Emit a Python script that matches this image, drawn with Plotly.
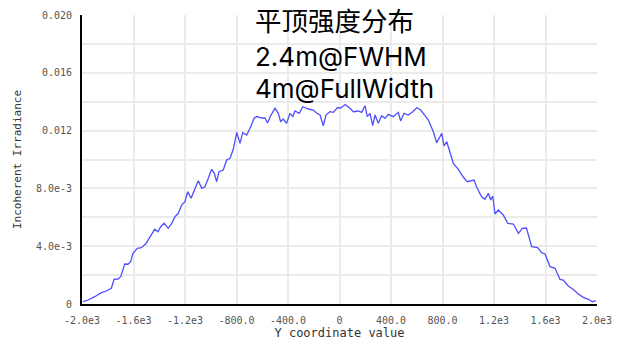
import plotly.graph_objects as go

# Line profile of incoherent irradiance across the Y coordinate
y_coord = [
    -1992, -1953, -1901, -1850, -1811, -1772, -1751, -1720, -1699, -1668,
    -1643, -1622, -1604, -1570, -1539, -1501, -1474, -1435, -1410, -1389,
    -1363, -1330, -1303, -1278, -1252, -1226, -1200, -1179, -1153, -1128,
    -1097, -1070, -1045, -1019, -993, -972, -954, -936, -903, -876,
    -850, -825, -798, -773, -752, -721, -695, -662, -643, -604,
    -579, -559, -536, -501, -475, -457, -437, -411, -384, -363,
    -346, -312, -286, -242, -203, -177, -151, -126, -105, -74,
    -48, -17, 9, 43, 82, 107, 146, 172, 198, 216,
    237, 258, 276, 301, 328, 353, 379, 418, 457, 475,
    501, 534, 569, 600, 631, 664, 690, 729, 755, 794,
    812, 833, 858, 884, 923, 962, 993, 1045, 1066, 1104,
    1130, 1156, 1174, 1190, 1208, 1233, 1272, 1307, 1350, 1390,
    1420, 1452, 1493, 1539, 1570, 1596, 1635, 1674, 1713, 1738,
    1777, 1816, 1855, 1894, 1932, 1964, 1990,
]
irradiance = [
    0.000159, 0.000277, 0.000505, 0.000782, 0.000900, 0.001086, 0.001709, 0.001730, 0.001889, 0.002768,
    0.002750, 0.002927, 0.003508, 0.003854, 0.003896, 0.004200, 0.004616, 0.005169, 0.005003, 0.005349,
    0.005584, 0.005238, 0.005584, 0.006041, 0.006276, 0.006851, 0.007079, 0.007771, 0.007314, 0.007889,
    0.008532, 0.008006, 0.008117, 0.008698, 0.009321, 0.009044, 0.008463, 0.009155, 0.009273, 0.009965,
    0.010082, 0.010705, 0.011882, 0.011120, 0.011854, 0.011695, 0.012158, 0.012871, 0.012975, 0.012871,
    0.012871, 0.012525, 0.013010, 0.013542, 0.013196, 0.012615, 0.012802, 0.012504, 0.013196, 0.012961,
    0.013356, 0.013196, 0.013653, 0.013494, 0.013425, 0.013196, 0.013079, 0.012338, 0.013079, 0.013307,
    0.013266, 0.013584, 0.013563, 0.013805, 0.013542, 0.013307, 0.013356, 0.013266, 0.013722, 0.012961,
    0.013196, 0.012338, 0.013079, 0.012504, 0.013030, 0.012850, 0.013127, 0.012961, 0.013266, 0.012664,
    0.013196, 0.013079, 0.013307, 0.013584, 0.013425, 0.013030, 0.012733, 0.011923, 0.011162, 0.011812,
    0.010934, 0.011231, 0.010539, 0.009736, 0.009321, 0.008768, 0.008463, 0.008581, 0.008076, 0.007425,
    0.007245, 0.007660, 0.007197, 0.007474, 0.006228, 0.006505, 0.006159, 0.005584, 0.005536, 0.004892,
    0.005238, 0.005259, 0.003965, 0.003896, 0.003550, 0.003460, 0.002581, 0.002470, 0.001695, 0.001661,
    0.001246, 0.001003, 0.000692, 0.000464, 0.000325, 0.000159, 0.000228,
]

x_tick_vals = [-2000, -1600, -1200, -800, -400, 0, 400, 800, 1200, 1600, 2000]
x_tick_text = ["-2.0e3", "-1.6e3", "-1.2e3", "-800.0", "-400.0", "0",
               "400.0", "800.0", "1.2e3", "1.6e3", "2.0e3"]
y_tick_vals = [0, 0.002, 0.004, 0.006, 0.008, 0.010, 0.012, 0.014, 0.016, 0.018, 0.020]
y_tick_text = ["0", "", "4.0e-3", "", "8.0e-3", "", "0.012", "", "0.016", "", "0.020"]

caption_lines = ["平顶强度分布", "2.4m@FWHM", "4m@FullWidth"]

mono = "DejaVu Sans Mono"

fig = go.Figure(
    go.Scatter(
        x=y_coord, y=irradiance, mode="lines",
        line=dict(color="#4f4fff", width=1.3),
        showlegend=False,
    )
)

fig.update_layout(
    width=624, height=342,
    margin=dict(l=82, r=27, t=15, b=38),
    paper_bgcolor="white", plot_bgcolor="white",
)

fig.update_xaxes(
    range=[-2000, 2000], automargin=False,
    tickvals=x_tick_vals, ticktext=x_tick_text,
    tickfont=dict(family=mono, size=10, color="#555555"),
    ticks="outside", ticklen=6, tickcolor="rgba(0,0,0,0)",
    showgrid=True, gridcolor="#ebebeb", gridwidth=1.5,
    zeroline=False,
    showline=True, linecolor="black", linewidth=2,
    title=dict(text="Y coordinate value", standoff=2,
               font=dict(family=mono, size=12, color="#333333")),
)

fig.update_yaxes(
    range=[0, 0.020], automargin=False,
    tickvals=y_tick_vals, ticktext=y_tick_text,
    tickfont=dict(family=mono, size=10, color="#555555"),
    ticks="outside", ticklen=6, tickcolor="rgba(0,0,0,0)",
    showgrid=True, gridcolor="#ebebeb", gridwidth=1.5,
    zeroline=False,
    showline=True, linecolor="black", linewidth=2,
    title=dict(text="Incoherent Irradiance", standoff=12,
               font=dict(family=mono, size=11, color="#333333")),
)

caption_fonts = [
    dict(family="Noto Sans CJK SC", size=26.5, color="black"),
    dict(family="Inter, Noto Sans CJK SC", size=26, color="black"),
    dict(family="Inter, Noto Sans CJK SC", size=26, color="black"),
]
for text, ypos, fnt in zip(caption_lines, [0.983, 0.858, 0.747], caption_fonts):
    fig.add_annotation(
        text=text, xref="paper", yref="paper",
        x=0.332, y=ypos, xanchor="left", yanchor="middle",
        showarrow=False, font=fnt,
    )

fig.write_html("out.html")
